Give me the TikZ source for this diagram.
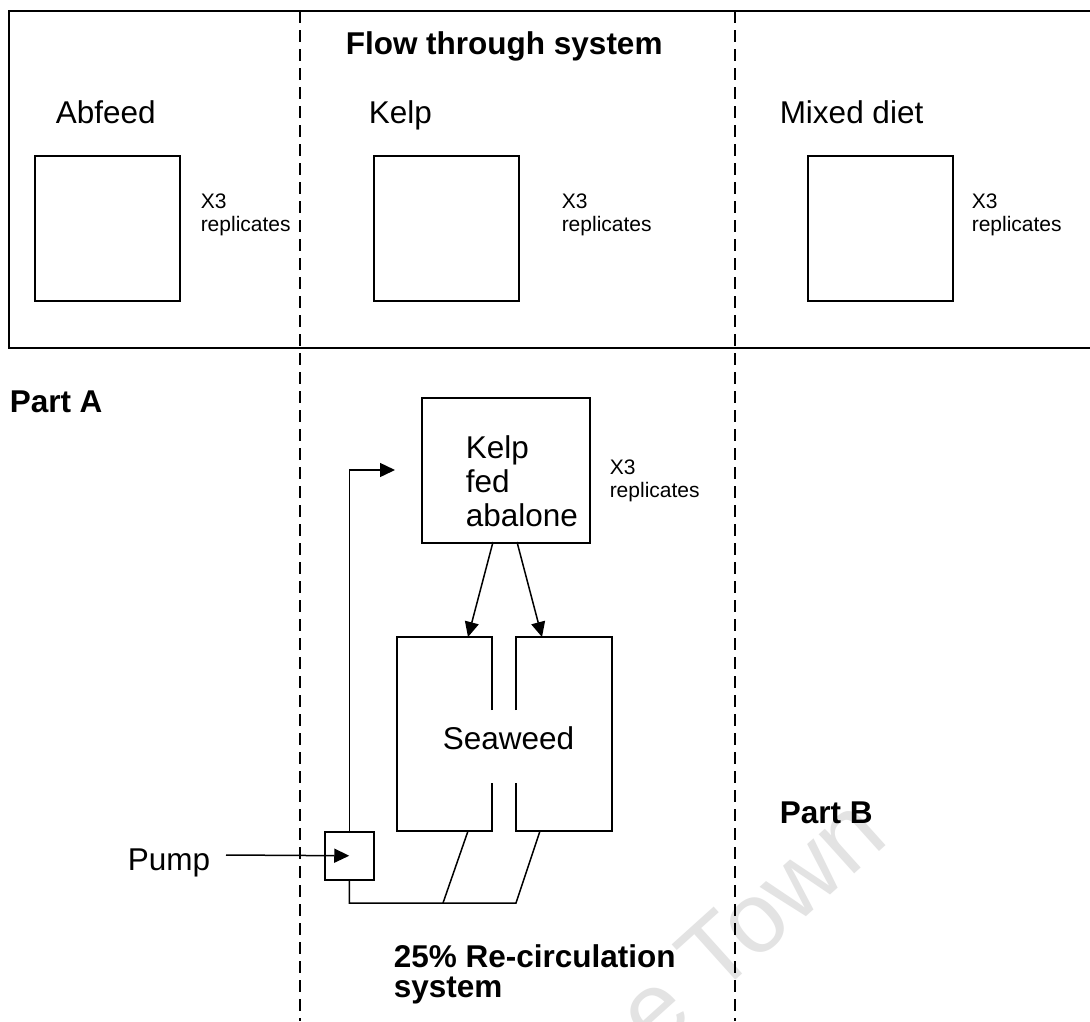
\documentclass[tikz,border=0pt]{standalone}
\usepackage{fontspec}
\setmainfont{Liberation Sans}
\usetikzlibrary{arrows.meta}
\begin{document}
\begin{tikzpicture}[x=1pt,y=-1pt,
  line width=1.5pt,
  dashline/.style={line width=1.5pt, dash pattern=on 12pt off 7pt},
  tank/.style={draw, line width=1.5pt, minimum width=145pt, minimum height=145pt, inner sep=0pt, anchor=north west},
  lbl/.style={anchor=base west, inner sep=0pt, font=\fontsize{31.5}{36}\selectfont},
  blbl/.style={anchor=base west, inner sep=0pt, font=\fontsize{31.5}{36}\selectfont\bfseries},
  slbl/.style={anchor=base west, inner sep=0pt, font=\fontsize{21}{24}\selectfont},
  arr/.style={-{Triangle[length=15pt,width=14pt]}, line width=1.5pt},
]
\useasboundingbox (0,0) rectangle (1090,1021);
\fill[white] (0,0) rectangle (1090,1021);

% faint watermark
\begin{scope}
\clip (0,0) rectangle (1090,1021);
\node[rotate=42, text=black!11, font=\fontsize{100}{100}\selectfont, inner sep=0pt] (wm) at (750,922) {e Town};
\end{scope}

% top frame (flow through system)
\draw (1090,11) -- (9,11) -- (9,348) -- (1090,348);

% dashed dividers
\draw[dashline] (300,11) -- (300,1021);
\draw[dashline] (735,11) -- (735,1021);

\node[blbl] (flow) at (345,54) {Flow through system};

\node[lbl] (abfl) at (55,123) {Abfeed};
\node[lbl] (kelpl) at (368,123) {Kelp};
\node[lbl] (mixl) at (779,123) {Mixed diet};

\node[tank] (abf) at (34,155) {};
\node[tank] (kelpb) at (373,155) {};
\node[tank] (mix) at (807,155) {};

\node[slbl] (r1a) at (200,208) {X3};
\node[slbl] (r1b) at (200,231) {replicates};
\node[slbl] (r2a) at (561,208) {X3};
\node[slbl] (r2b) at (561,231) {replicates};
\node[slbl] (r3a) at (971,208) {X3};
\node[slbl] (r3b) at (971,231) {replicates};

% Part labels
\node[blbl] (parta) at (9,412) {Part A};
\node[blbl] (partb) at (779,823) {Part B};

% kelp fed abalone tank
\node[draw, minimum width=168pt, minimum height=145pt, inner sep=0pt, anchor=north west] (abal) at (421,397) {};
\node[lbl] (ab1) at (465,458) {Kelp};
\node[lbl] (ab2) at (465,492) {fed};
\node[lbl] (ab3) at (465,526) {abalone};
\node[slbl] (r4a) at (609,474) {X3};
\node[slbl] (r4b) at (609,497) {replicates};

% seaweed tanks
\draw (492,710) -- (492,637) -- (397,637) -- (397,831) -- (492,831) -- (492,783);
\draw (516,710) -- (516,637) -- (612,637) -- (612,831) -- (516,831) -- (516,783);
\node[lbl] (sea) at (442,749) {Seaweed};

\coordinate (o1) at (493,542);
\coordinate (o2) at (517,542);
\coordinate (i1) at (468,637);
\coordinate (i2) at (542,637);
\draw[arr] (o1) -- (i1);
\draw[arr] (o2) -- (i2);

% pump
\node[draw, minimum width=49pt, minimum height=48pt, inner sep=0pt, anchor=north west] (pump) at (324,831) {};
\node[lbl] (pumpl) at (127,870) {Pump};
\coordinate (pin) at (226,855);
\draw[arr] (pin) -- (pump.center);

\coordinate (inlet) at (395,470);
\draw[arr] (pump.north) |- (inlet);

\coordinate (ltb) at (468,831);
\coordinate (rtb) at (540,831);
\coordinate (jn) at (443,903);
\draw (pump.south) |- (516,903) -- (rtb);
\draw (jn) -- (ltb);

\node[blbl] (rc1) at (393,967) {25\% Re-circulation};
\node[blbl] (rc2) at (393,997) {system};
\end{tikzpicture}
\end{document}
